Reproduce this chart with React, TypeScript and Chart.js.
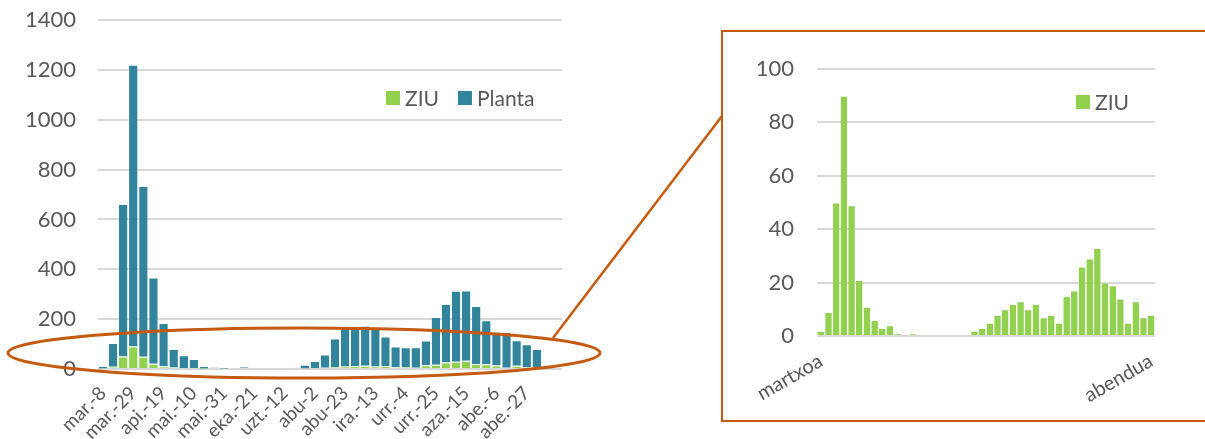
import React, { useEffect, useRef } from 'react';
import { Chart, registerables } from 'chart.js';

Chart.register(...registerables);

// ---------- data ----------
const weekLabels = [
  'mar.-8', 'mar.-15', 'mar.-22', 'mar.-29', 'api.-5', 'api.-12', 'api.-19', 'api.-26',
  'mai.-3', 'mai.-10', 'mai.-17', 'mai.-24', 'mai.-31', 'eka.-7', 'eka.-14', 'eka.-21',
  'eka.-28', 'uzt.-5', 'uzt.-12', 'uzt.-19', 'uzt.-26', 'abu-2', 'abu-9', 'abu-16',
  'abu-23', 'abu-30', 'ira.-6', 'ira.-13', 'ira.-20', 'ira.-27', 'urr.-4', 'urr.-11',
  'urr.-18', 'urr.-25', 'aza.-1', 'aza.-8', 'aza.-15', 'aza.-22', 'aza.-29', 'abe.-6',
  'abe.-13', 'abe.-20', 'abe.-27', 'urt.-3', '', '',
];

const ziu = [
  2, 9, 50, 90, 49, 21, 11, 6, 3, 4, 1, 0, 1, 0, 0, 0, 0, 0, 0, 0, 2, 3,
  5, 8, 10, 12, 13, 10, 12, 7, 8, 5, 15, 17, 26, 29, 33, 20, 19, 14, 5, 13, 7, 8,
];

const planta = [
  10, 95, 612, 1130, 685, 346, 174, 74, 52, 36, 11, 7, 6, 4, 8, 0, 0, 0, 0, 4, 15, 29,
  53, 114, 158, 152, 160, 158, 118, 83, 79, 82, 99, 192, 235, 285, 282, 233, 177, 135, 143, 102, 92, 72,
];

const zoomLabels = ['martxoa', ...Array(42).fill(''), 'abendua'];

const mainTickEvery = 3;

// ---------- styles ----------
const FONT = 'Lato, "Open Sans", sans-serif';
const TEXT = '#595959';
const GRID = '#d9d9d9';
const GREEN = '#92d050';
const TEAL = '#31849b';
const ORANGE = '#c55a11';

const inlineLegend = {
  id: 'inlineLegend',
  afterDraw(chart: any, _args: any, opts: any) {
    const ctx = chart.ctx;
    ctx.save();
    ctx.font = `${opts.fontSize}px ${FONT}`;
    ctx.textBaseline = 'middle';
    ctx.textAlign = 'left';
    let x = opts.x;
    chart.data.datasets.forEach((ds: any) => {
      ctx.fillStyle = ds.backgroundColor;
      ctx.fillRect(x, opts.y - opts.box / 2, opts.box, opts.box);
      ctx.fillStyle = TEXT;
      ctx.fillText(ds.label, x + opts.box + opts.textGap, opts.y + 1);
      x += opts.box + opts.textGap + ctx.measureText(ds.label).width + opts.gap;
    });
    ctx.restore();
  },
};

const plainNumber = (v: any) => String(v);

function MainChart() {
  const ref = useRef<HTMLCanvasElement>(null);
  useEffect(() => {
    const chart = new Chart(ref.current!, {
      type: 'bar',
      data: {
        labels: weekLabels,
        datasets: [
          {
            label: 'ZIU',
            data: ziu,
            backgroundColor: GREEN,
            borderColor: 'rgba(255,255,255,0.5)',
            borderWidth: { top: 1, left: 0, right: 0, bottom: 0 },
            borderSkipped: false,
            categoryPercentage: 1,
            barPercentage: 0.84,
          },
          {
            label: 'Planta',
            data: planta,
            backgroundColor: TEAL,
            borderColor: 'rgba(255,255,255,0.5)',
            borderWidth: { top: 1, left: 0, right: 0, bottom: 0 },
            borderSkipped: false,
            categoryPercentage: 1,
            barPercentage: 0.84,
          },
        ],
      },
      options: {
        responsive: false,
        animation: false,
        layout: { padding: { top: 20, right: 38, left: 0, bottom: 0 } },
        plugins: {
          legend: { display: false },
          tooltip: { enabled: false },
          inlineLegend: { x: 386, y: 98, box: 14, textGap: 5, gap: 19, fontSize: 21 },
        } as any,
        scales: {
          x: {
            stacked: true,
            grid: { display: false },
            border: { display: false },
            ticks: {
              autoSkip: false,
              minRotation: 45,
              maxRotation: 45,
              padding: 5,
              color: TEXT,
              font: { family: FONT, size: 19 },
              callback(this: any, value: any, index: number) {
                return index % mainTickEvery === 0 ? this.getLabelForValue(value) : '';
              },
            },
            afterFit(s: any) {
              s.height = 70;
            },
          },
          y: {
            stacked: true,
            min: 0,
            max: 1400,
            grid: { color: GRID, lineWidth: 2, drawTicks: true, tickLength: 22, tickColor: 'rgba(0,0,0,0)' },
            border: { display: false },
            ticks: {
              stepSize: 200,
              padding: 0,
              color: TEXT,
              font: { family: FONT, size: 22 },
              callback: plainNumber,
            },
            afterFit(s: any) {
              s.width = 98;
            },
          },
        },
      },
      plugins: [inlineLegend],
    });
    return () => chart.destroy();
  }, []);
  return <canvas ref={ref} width={600} height={439} style={{ position: 'absolute', left: 0, top: 0 }} />;
}

function ZoomChart() {
  const ref = useRef<HTMLCanvasElement>(null);
  useEffect(() => {
    const chart = new Chart(ref.current!, {
      type: 'bar',
      data: {
        labels: zoomLabels,
        datasets: [
          {
            label: 'ZIU',
            data: ziu,
            backgroundColor: GREEN,
            borderColor: 'rgba(255,255,255,0.5)',
            borderWidth: { top: 1, left: 0, right: 0, bottom: 0 },
            borderSkipped: false,
            categoryPercentage: 1,
            barPercentage: 0.86,
          },
        ],
      },
      options: {
        responsive: false,
        animation: false,
        layout: { padding: { top: 37, right: 47, left: 0, bottom: 0 } },
        plugins: {
          legend: { display: false },
          tooltip: { enabled: false },
          inlineLegend: { x: 352, y: 70, box: 14, textGap: 5, gap: 19, fontSize: 21 },
        } as any,
        scales: {
          x: {
            grid: { display: false },
            border: { display: false },
            ticks: {
              autoSkip: false,
              minRotation: 30,
              maxRotation: 30,
              padding: 5,
              color: TEXT,
              font: { family: FONT, size: 20 },
            },
            afterFit(s: any) {
              s.height = 84;
            },
          },
          y: {
            min: 0,
            max: 100,
            grid: { color: GRID, lineWidth: 2, drawTicks: true, tickLength: 23, tickColor: 'rgba(0,0,0,0)' },
            border: { display: false },
            ticks: {
              stepSize: 20,
              padding: 0,
              color: TEXT,
              font: { family: FONT, size: 22 },
              callback: plainNumber,
            },
            afterFit(s: any) {
              s.width = 93;
            },
          },
        },
      },
      plugins: [inlineLegend],
    });
    return () => chart.destroy();
  }, []);
  return <canvas ref={ref} width={478} height={388} style={{ position: 'absolute', left: 724, top: 32 }} />;
}

export default function App() {
  return (
    <div style={{ position: 'absolute', left: 0, top: 0, width: 1205, height: 439, background: '#fff', overflow: 'hidden' }}>
      <MainChart />
      <ZoomChart />
      <svg width={1205} height={439} style={{ position: 'absolute', left: 0, top: 0, pointerEvents: 'none' }}>
        <ellipse cx={304} cy={353} rx={296} ry={25} fill="none" stroke={ORANGE} strokeWidth={3} />
        <line x1={553} y1={338} x2={722} y2={116} stroke={ORANGE} strokeWidth={2.5} />
        <rect x={722} y={31} width={500} height={390} fill="none" stroke={ORANGE} strokeWidth={2} />
      </svg>
    </div>
  );
}
